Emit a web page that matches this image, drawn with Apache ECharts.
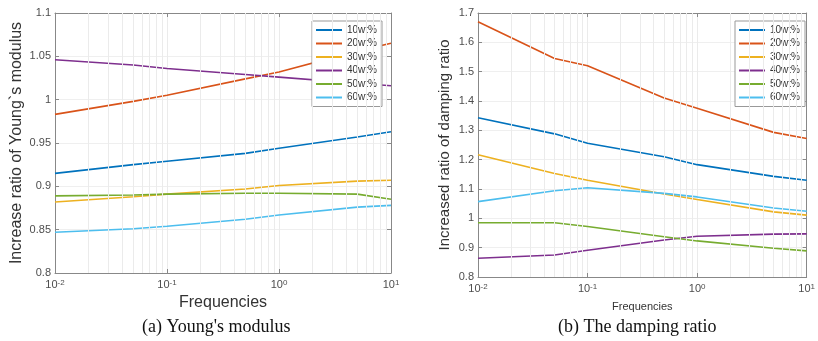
<!DOCTYPE html>
<html>
<head>
<meta charset="utf-8">
<script src="https://cdn.jsdelivr.net/npm/echarts@6/dist/echarts.min.js"></script>
<style>
  html, body { margin: 0; padding: 0; background: #fff; }
  #chart { width: 818px; height: 341px; }
</style>
</head>
<body>
<div id="chart"></div>
<script>
const freqs = [0.01, 0.05, 0.1, 0.5, 1, 5, 10]
const seriesNames = ['10wt%', '20wt%', '30wt%', '40wt%', '50wt%', '60wt%']
const colors = ['#0072BD', '#D95319', '#EDB120', '#7E2F8E', '#77AC30', '#4DBEEE']

// (a) Young's modulus
const young10 = [0.915, 0.925, 0.929, 0.938, 0.944, 0.957, 0.963]
const young20 = [0.983, 0.998, 1.005, 1.024, 1.032, 1.056, 1.065]
const young30 = [0.882, 0.888, 0.891, 0.897, 0.901, 0.906, 0.907]
const young40 = [1.046, 1.040, 1.036, 1.029, 1.026, 1.019, 1.016]
const young50 = [0.889, 0.890, 0.891, 0.892, 0.892, 0.891, 0.885]
const young60 = [0.847, 0.851, 0.854, 0.862, 0.867, 0.876, 0.878]

// (b) damping ratio
const damp10 = [1.343, 1.288, 1.256, 1.210, 1.183, 1.143, 1.130]
const damp20 = [1.670, 1.545, 1.520, 1.410, 1.375, 1.293, 1.272]
const damp30 = [1.217, 1.153, 1.130, 1.083, 1.064, 1.022, 1.011]
const damp40 = [0.864, 0.875, 0.891, 0.926, 0.939, 0.946, 0.947]
const damp50 = [0.985, 0.985, 0.972, 0.937, 0.923, 0.898, 0.889]
const damp60 = [1.057, 1.094, 1.104, 1.085, 1.073, 1.035, 1.024]

// minor log grid positions
const minorTicks = [0.02, 0.03, 0.04, 0.05, 0.06, 0.07, 0.08, 0.09,
  0.2, 0.3, 0.4, 0.5, 0.6, 0.7, 0.8, 0.9,
  2, 3, 4, 5, 6, 7, 8, 9]

const youngSets = [young10, young20, young30, young40, young50, young60]
const dampSets = [damp10, damp20, damp30, damp40, damp50, damp60]

const font = '"Liberation Sans", Arial, sans-serif'
const labelColor = '#4d4d4d'

const chart = echarts.init(document.getElementById('chart'))

const xBottom = (gridIndex, nameSize, nameGap) => ({
  type: 'log',
  logBase: 10,
  gridIndex,
  min: 0.01,
  max: 10,
  name: 'Frequencies',
  nameLocation: 'middle',
  nameGap,
  nameTextStyle: { fontFamily: font, fontSize: nameSize, color: '#333' },
  axisLine: { show: true, onZero: false, lineStyle: { color: '#888' } },
  axisTick: { show: true, inside: true, length: 4, lineStyle: { color: '#888' } },
  axisLabel: {
    margin: 6,
    formatter: v => '{b|10}{s|' + Math.round(Math.log10(v)) + '}',
    rich: {
      b: { fontFamily: font, fontSize: 11, color: labelColor, verticalAlign: 'bottom' },
      s: { fontFamily: font, fontSize: 8, color: labelColor, verticalAlign: 'top' }
    }
  },
  splitLine: { show: true, lineStyle: { color: '#ebebeb', width: 1 } }
})

const xTop = (gridIndex) => ({
  type: 'log',
  logBase: 10,
  gridIndex,
  min: 0.01,
  max: 10,
  position: 'top',
  axisLine: { show: true, onZero: false, lineStyle: { color: '#888' } },
  axisTick: { show: true, inside: true, length: 4, lineStyle: { color: '#888' } },
  axisLabel: { show: false },
  splitLine: { show: false }
})

const yLeft = (gridIndex, min, max, interval, name, nameSize, nameGap) => ({
  type: 'value',
  gridIndex,
  min, max, interval,
  name,
  nameLocation: 'middle',
  nameGap,
  nameTextStyle: { fontFamily: font, fontSize: nameSize, color: '#333' },
  axisLine: { show: true, lineStyle: { color: '#888' } },
  axisTick: { show: true, inside: true, length: 4, lineStyle: { color: '#888' } },
  axisLabel: { fontFamily: font, fontSize: 11, color: labelColor, margin: 4 },
  splitLine: { show: true, lineStyle: { color: '#efefef', width: 1 } }
})

const yRight = (gridIndex, min, max, interval) => ({
  type: 'value',
  gridIndex,
  min, max, interval,
  position: 'right',
  axisLine: { show: true, lineStyle: { color: '#888' } },
  axisTick: { show: true, inside: true, length: 4, lineStyle: { color: '#888' } },
  axisLabel: { show: false },
  splitLine: { show: false }
})

const makeSeries = (sets, axisIndex) => sets.map((vals, i) => ({
  name: seriesNames[i],
  type: 'line',
  xAxisIndex: axisIndex,
  yAxisIndex: axisIndex,
  data: freqs.map((f, j) => [f, vals[j]]),
  symbol: 'none',
  smooth: false,
  lineStyle: { color: colors[i], width: 1.6 },
  itemStyle: { color: colors[i] },
  z: 3
}))

const minorGrid = (axisIndex, firstY) => ({
  type: 'line',
  xAxisIndex: axisIndex,
  yAxisIndex: axisIndex,
  data: [[freqs[0], firstY]],
  symbol: 'none',
  lineStyle: { opacity: 0 },
  silent: true,
  z: 1,
  markLine: {
    silent: true,
    symbol: 'none',
    label: { show: false },
    lineStyle: { color: '#ebebeb', width: 1, type: 'solid' },
    animation: false,
    data: minorTicks.map(t => ({ xAxis: t }))
  }
})

const legend = (left) => ({
  data: seriesNames,
  orient: 'vertical',
  left,
  top: 21,
  icon: 'rect',
  itemWidth: 26,
  itemHeight: 2,
  itemGap: 1.5,
  padding: [3, 5, 3, 4],
  backgroundColor: '#fff',
  borderColor: '#999',
  borderWidth: 1,
  borderRadius: 0,
  textStyle: { fontFamily: font, fontSize: 10, color: '#333', lineHeight: 12 }
})

const option = {
  animation: false,
  backgroundColor: '#fff',
  grid: [
    { left: 55, top: 13, width: 336, height: 260, show: true, borderColor: '#888', borderWidth: 0 },
    { left: 478, top: 13, width: 335, height: 264, show: true, borderColor: '#888', borderWidth: 0 }
  ],
  xAxis: [xBottom(0, 16, 21), xBottom(1, 11, 24), xTop(0), xTop(1)],
  yAxis: [
    yLeft(0, 0.8, 1.1, 0.05, "Increase ratio of Young`s modulus", 16, 30),
    yLeft(1, 0.8, 1.7, 0.1, 'Increased ratio of damping ratio', 15, 26),
    yRight(0, 0.8, 1.1, 0.05),
    yRight(1, 0.8, 1.7, 0.1)
  ],
  legend: [legend(312), legend(735)],
  series: [
    minorGrid(0, young10[0]),
    minorGrid(1, damp10[0]),
    ...makeSeries(youngSets, 0),
    ...makeSeries(dampSets, 1)
  ],
  graphic: [
    {
      type: 'text', left: 142, top: 318,
      style: { text: "(a) Young's modulus", font: '18px "Liberation Serif", "Times New Roman", serif', fill: '#111' }
    },
    {
      type: 'text', left: 558, top: 318,
      style: { text: '(b) The damping ratio', font: '18px "Liberation Serif", "Times New Roman", serif', fill: '#111' }
    }
  ]
}

chart.setOption(option)
window.addEventListener('resize', () => chart.resize())
</script>
</body>
</html>
